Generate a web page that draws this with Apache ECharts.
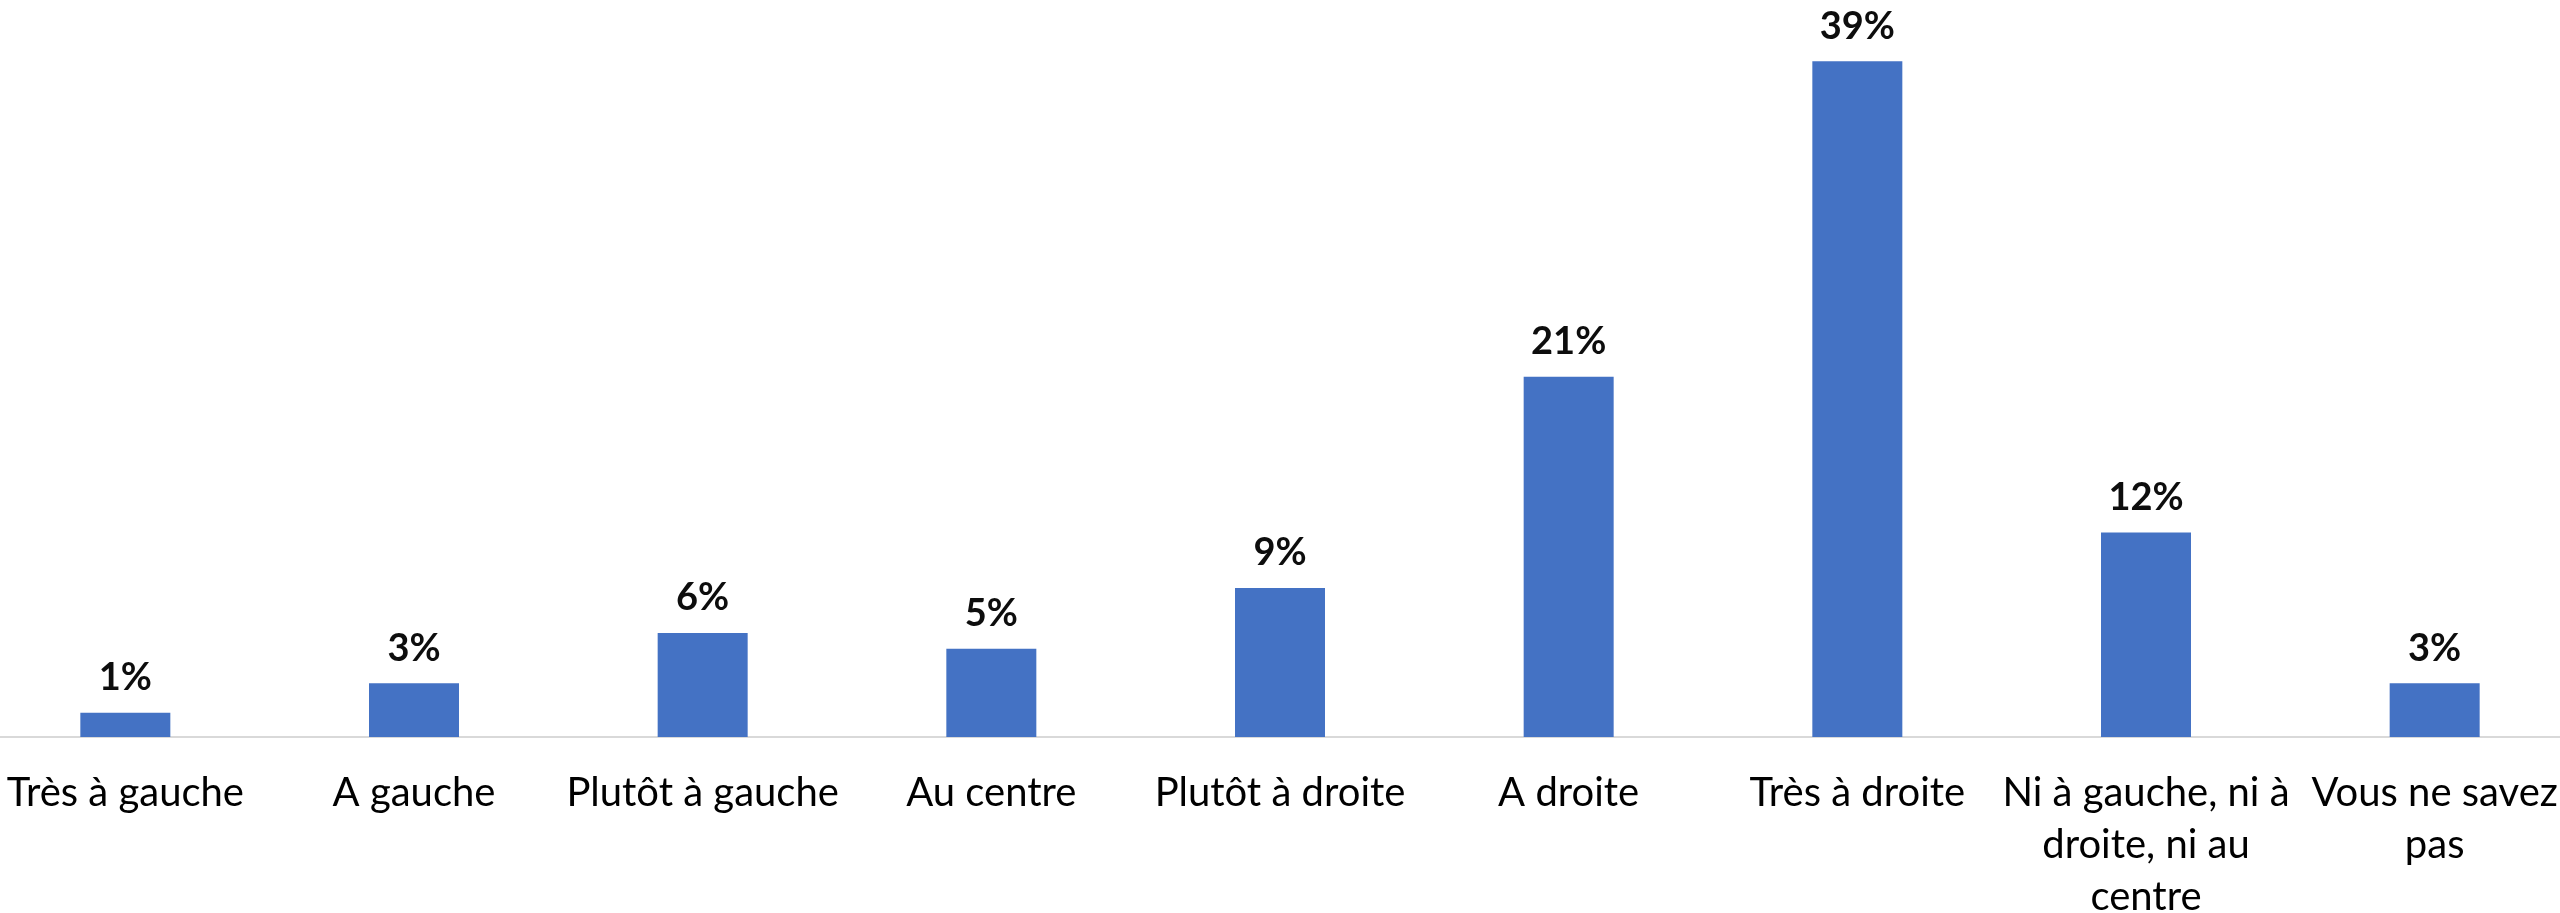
<!DOCTYPE html>
<html>
<head>
<meta charset="utf-8">
<script src="https://cdn.jsdelivr.net/npm/echarts@6/dist/echarts.min.js"></script>
<style>
html,body{margin:0;padding:0;background:#fff;overflow:hidden;width:2560px;height:913px;}
#chart{width:2598px;height:913px;margin-left:-19px;}
</style>
</head>
<body>
<div id="chart"></div>
<script>
const categories = [
  'Très à gauche',
  'A gauche',
  'Plutôt à gauche',
  'Au centre',
  'Plutôt à droite',
  'A droite',
  'Très à droite',
  'Ni à gauche, ni à\ndroite, ni au\ncentre',
  'Vous ne savez\npas'
];
const values = [1.4, 3.1, 6.0, 5.1, 8.6, 20.8, 39.0, 11.8, 3.1];

const chart = echarts.init(document.getElementById('chart'), null, {renderer: 'canvas'});
chart.setOption({
  backgroundColor: '#ffffff',
  animation: false,
  grid: {left: 0, right: 0, top: 44, bottom: 176, containLabel: false, outerBoundsMode: 'none'},
  xAxis: {
    type: 'category',
    data: categories,
    axisLine: {show: true, lineStyle: {color: '#d9d9d9', width: 2}},
    axisTick: {show: false},
    axisLabel: {
      interval: 0,
      margin: 30,
      fontFamily: 'Lato',
      fontSize: 40,
      lineHeight: 52,
      color: '#000000'
    }
  },
  yAxis: {type: 'value', min: 0, max: 40, show: false, splitLine: {show: false}},
  series: [{
    type: 'bar',
    data: values,
    barWidth: 90,
    itemStyle: {color: '#4472C4'},
    label: {
      show: true,
      position: 'top',
      distance: 16,
      fontFamily: 'Lato',
      fontWeight: 'bold',
      fontSize: 38,
      color: '#0d0d0d',
      formatter: p => Math.round(p.value) + '%'
    }
  }]
});
</script>
</body>
</html>
